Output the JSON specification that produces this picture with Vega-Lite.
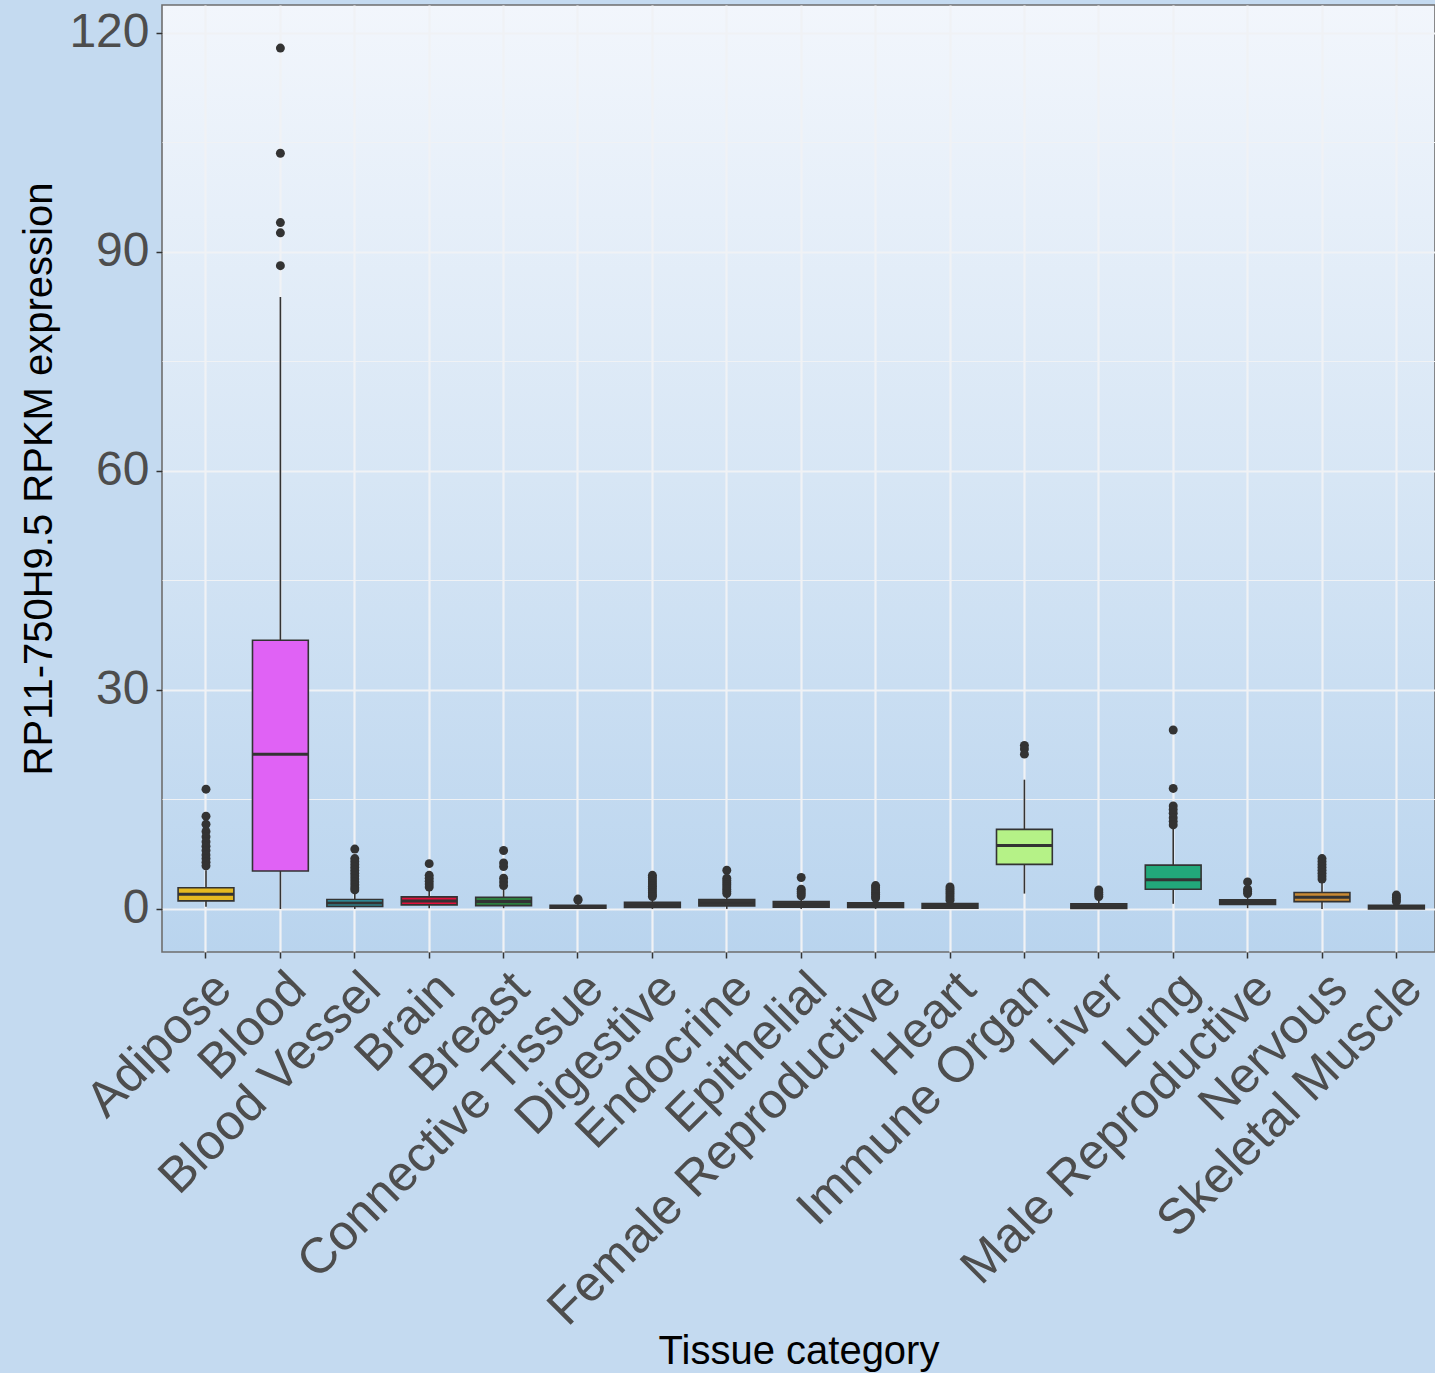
{
  "$schema": "https://vega.github.io/schema/vega-lite/v6.json",
  "width": 1273,
  "height": 947,
  "autosize": {"type": "none"},
  "padding": {"left": 162, "top": 5, "right": 0, "bottom": 421},
  "background": "#C4DAF0",
  "config": {
    "font": "Liberation Sans",
    "view": {
      "fill": {"gradient": "linear", "x1": 0, "y1": 0, "x2": 0, "y2": 1,
        "stops": [{"offset": 0, "color": "#F2F6FC"}, {"offset": 0.5, "color": "#D7E6F5"}, {"offset": 1, "color": "#B9D4EE"}]},
      "stroke": "#6E6E6E",
      "strokeWidth": 1.6
    },
    "axis": {
      "domain": false,
      "grid": true,
      "gridColor": "#F0F2F5",
      "tickColor": "#333333",
      "tickWidth": 1.5,
      "tickSize": 6,
      "labelColor": "#4D4D4D",
      "labelFont": "Liberation Sans",
      "labelFontSize": 48,
      "titleColor": "#000000",
      "titleFont": "Liberation Sans",
      "titleFontSize": 40,
      "titleFontWeight": "normal",
      "labelOverlap": false,
      "labelLimit": 2000
    },
    "axisX": {
      "labelAngle": -45,
      "labelAlign": "right",
      "labelBaseline": "top",
      "labelPadding": 5,
      "labelFontSize": 50,
      "gridWidth": 2.2,
      "titleY": 411,
      "titleBaseline": "alphabetic"
    },
    "axisY": {
      "labelPadding": 7,
      "titleX": -111,
      "titleBaseline": "alphabetic"
    }
  },
  "datasets": {
    "stats": [
      {"tissue": "Adipose", "lower": 0.3, "q1": 1.1, "median": 2.0, "q3": 2.9, "upper": 5.3},
      {"tissue": "Blood", "lower": 0.0, "q1": 5.2, "median": 21.2, "q3": 36.8, "upper": 83.8},
      {"tissue": "Blood Vessel", "lower": 0.0, "q1": 0.35, "median": 0.8, "q3": 1.3, "upper": 2.4},
      {"tissue": "Brain", "lower": 0.1, "q1": 0.55, "median": 1.1, "q3": 1.65, "upper": 2.6},
      {"tissue": "Breast", "lower": 0.1, "q1": 0.45, "median": 1.0, "q3": 1.6, "upper": 2.7},
      {"tissue": "Connective Tissue", "lower": 0.0, "q1": 0.1, "median": 0.3, "q3": 0.5, "upper": 0.9},
      {"tissue": "Digestive", "lower": 0.0, "q1": 0.2, "median": 0.5, "q3": 0.9, "upper": 1.6},
      {"tissue": "Endocrine", "lower": 0.0, "q1": 0.4, "median": 0.8, "q3": 1.3, "upper": 2.0},
      {"tissue": "Epithelial", "lower": 0.0, "q1": 0.25, "median": 0.6, "q3": 1.0, "upper": 1.6},
      {"tissue": "Female Reproductive", "lower": 0.0, "q1": 0.2, "median": 0.5, "q3": 0.85, "upper": 1.4},
      {"tissue": "Heart", "lower": 0.0, "q1": 0.1, "median": 0.4, "q3": 0.75, "upper": 1.1},
      {"tissue": "Immune Organ", "lower": 2.1, "q1": 6.1, "median": 8.7, "q3": 10.9, "upper": 17.7},
      {"tissue": "Liver", "lower": 0.0, "q1": 0.05, "median": 0.3, "q3": 0.7, "upper": 1.3},
      {"tissue": "Lung", "lower": 0.7, "q1": 2.7, "median": 4.0, "q3": 6.0, "upper": 11.2},
      {"tissue": "Male Reproductive", "lower": 0.1, "q1": 0.6, "median": 0.9, "q3": 1.25, "upper": 1.8},
      {"tissue": "Nervous", "lower": 0.0, "q1": 1.0, "median": 1.6, "q3": 2.25, "upper": 3.9},
      {"tissue": "Skeletal Muscle", "lower": 0.0, "q1": 0.0, "median": 0.25, "q3": 0.5, "upper": 0.7}
    ],
    "outliers": [
      {"tissue": "Adipose", "value": 16.4}, {"tissue": "Adipose", "value": 12.7}, {"tissue": "Adipose", "value": 11.6},
      {"tissue": "Adipose", "value": 10.6}, {"tissue": "Adipose", "value": 9.9}, {"tissue": "Adipose", "value": 9.2},
      {"tissue": "Adipose", "value": 8.6}, {"tissue": "Adipose", "value": 8.0}, {"tissue": "Adipose", "value": 7.4},
      {"tissue": "Adipose", "value": 6.9}, {"tissue": "Adipose", "value": 6.4}, {"tissue": "Adipose", "value": 5.9},
      {"tissue": "Blood", "value": 117.9}, {"tissue": "Blood", "value": 103.5}, {"tissue": "Blood", "value": 94.0},
      {"tissue": "Blood", "value": 92.6}, {"tissue": "Blood", "value": 88.1},
      {"tissue": "Blood Vessel", "value": 8.2}, {"tissue": "Blood Vessel", "value": 6.9}, {"tissue": "Blood Vessel", "value": 6.5},
      {"tissue": "Blood Vessel", "value": 6.1}, {"tissue": "Blood Vessel", "value": 5.7}, {"tissue": "Blood Vessel", "value": 5.3},
      {"tissue": "Blood Vessel", "value": 4.9}, {"tissue": "Blood Vessel", "value": 4.5}, {"tissue": "Blood Vessel", "value": 4.1},
      {"tissue": "Blood Vessel", "value": 3.7}, {"tissue": "Blood Vessel", "value": 3.3}, {"tissue": "Blood Vessel", "value": 2.9},
      {"tissue": "Blood Vessel", "value": 2.6},
      {"tissue": "Brain", "value": 6.2}, {"tissue": "Brain", "value": 4.6}, {"tissue": "Brain", "value": 4.2},
      {"tissue": "Brain", "value": 3.8}, {"tissue": "Brain", "value": 3.4}, {"tissue": "Brain", "value": 3.0},
      {"tissue": "Breast", "value": 8.0}, {"tissue": "Breast", "value": 6.3}, {"tissue": "Breast", "value": 5.8},
      {"tissue": "Breast", "value": 4.2}, {"tissue": "Breast", "value": 3.7}, {"tissue": "Breast", "value": 3.2},
      {"tissue": "Connective Tissue", "value": 1.2}, {"tissue": "Connective Tissue", "value": 1.35},
      {"tissue": "Digestive", "value": 4.6}, {"tissue": "Digestive", "value": 4.3}, {"tissue": "Digestive", "value": 4.0},
      {"tissue": "Digestive", "value": 3.7}, {"tissue": "Digestive", "value": 3.4}, {"tissue": "Digestive", "value": 3.1},
      {"tissue": "Digestive", "value": 2.8}, {"tissue": "Digestive", "value": 2.5}, {"tissue": "Digestive", "value": 2.2},
      {"tissue": "Digestive", "value": 1.9}, {"tissue": "Digestive", "value": 1.7},
      {"tissue": "Endocrine", "value": 5.3}, {"tissue": "Endocrine", "value": 4.2}, {"tissue": "Endocrine", "value": 3.9},
      {"tissue": "Endocrine", "value": 3.6}, {"tissue": "Endocrine", "value": 3.3}, {"tissue": "Endocrine", "value": 3.0},
      {"tissue": "Endocrine", "value": 2.7}, {"tissue": "Endocrine", "value": 2.4}, {"tissue": "Endocrine", "value": 2.1},
      {"tissue": "Epithelial", "value": 4.3}, {"tissue": "Epithelial", "value": 2.7}, {"tissue": "Epithelial", "value": 2.4},
      {"tissue": "Epithelial", "value": 2.1}, {"tissue": "Epithelial", "value": 1.8},
      {"tissue": "Female Reproductive", "value": 3.2}, {"tissue": "Female Reproductive", "value": 2.9},
      {"tissue": "Female Reproductive", "value": 2.6}, {"tissue": "Female Reproductive", "value": 2.3},
      {"tissue": "Female Reproductive", "value": 2.0}, {"tissue": "Female Reproductive", "value": 1.7},
      {"tissue": "Female Reproductive", "value": 1.5},
      {"tissue": "Heart", "value": 3.0}, {"tissue": "Heart", "value": 2.7}, {"tissue": "Heart", "value": 2.4},
      {"tissue": "Heart", "value": 2.1}, {"tissue": "Heart", "value": 1.8}, {"tissue": "Heart", "value": 1.5},
      {"tissue": "Heart", "value": 1.2},
      {"tissue": "Immune Organ", "value": 22.4}, {"tissue": "Immune Organ", "value": 21.9}, {"tissue": "Immune Organ", "value": 21.2},
      {"tissue": "Liver", "value": 2.6}, {"tissue": "Liver", "value": 2.3}, {"tissue": "Liver", "value": 2.0},
      {"tissue": "Liver", "value": 1.7},
      {"tissue": "Lung", "value": 24.5}, {"tissue": "Lung", "value": 16.5}, {"tissue": "Lung", "value": 14.1},
      {"tissue": "Lung", "value": 13.6}, {"tissue": "Lung", "value": 13.1}, {"tissue": "Lung", "value": 12.5},
      {"tissue": "Lung", "value": 12.0}, {"tissue": "Lung", "value": 11.5},
      {"tissue": "Male Reproductive", "value": 3.7}, {"tissue": "Male Reproductive", "value": 2.7},
      {"tissue": "Male Reproductive", "value": 2.4}, {"tissue": "Male Reproductive", "value": 2.1},
      {"tissue": "Nervous", "value": 6.9}, {"tissue": "Nervous", "value": 6.5}, {"tissue": "Nervous", "value": 6.1},
      {"tissue": "Nervous", "value": 5.7}, {"tissue": "Nervous", "value": 5.3}, {"tissue": "Nervous", "value": 4.9},
      {"tissue": "Nervous", "value": 4.5}, {"tissue": "Nervous", "value": 4.1},
      {"tissue": "Skeletal Muscle", "value": 1.9}, {"tissue": "Skeletal Muscle", "value": 1.6},
      {"tissue": "Skeletal Muscle", "value": 1.3}, {"tissue": "Skeletal Muscle", "value": 1.0}
    ]
  },
  "encoding": {
    "x": {
      "field": "tissue",
      "type": "nominal",
      "title": "Tissue category",
      "sort": ["Adipose", "Blood", "Blood Vessel", "Brain", "Breast", "Connective Tissue", "Digestive", "Endocrine", "Epithelial", "Female Reproductive", "Heart", "Immune Organ", "Liver", "Lung", "Male Reproductive", "Nervous", "Skeletal Muscle"],
      "scale": {"paddingInner": 0, "paddingOuter": 0.055, "align": 0.83}
    }
  },
  "layer": [
    {
      "data": {"name": "stats"},
      "mark": {"type": "rule", "color": "#333333", "strokeWidth": 1.6},
      "encoding": {
        "y": {"field": "lower", "type": "quantitative", "title": "RP11-750H9.5 RPKM expression",
          "scale": {"domain": [-5.9, 123.8], "nice": false, "zero": false},
          "axis": {"values": [0, 15, 30, 45, 60, 75, 90, 105, 120],
            "labelExpr": "datum.value % 30 === 0 ? datum.label : ''",
            "gridWidth": {"condition": {"test": "datum.value % 30 === 0", "value": 2.2}, "value": 1.1},
            "tickOpacity": {"condition": {"test": "datum.value % 30 === 0", "value": 1}, "value": 0}}},
        "y2": {"field": "upper"}
      }
    },
    {
      "data": {"name": "stats"},
      "mark": {"type": "bar", "stroke": "#333333", "strokeWidth": 1.6, "width": {"band": 0.75}},
      "encoding": {
        "y": {"field": "q1", "type": "quantitative", "title": "RP11-750H9.5 RPKM expression",
          "scale": {"domain": [-5.9, 123.8], "nice": false, "zero": false},
          "axis": {"values": [0, 15, 30, 45, 60, 75, 90, 105, 120],
            "labelExpr": "datum.value % 30 === 0 ? datum.label : ''",
            "gridWidth": {"condition": {"test": "datum.value % 30 === 0", "value": 2.2}, "value": 1.1},
            "tickOpacity": {"condition": {"test": "datum.value % 30 === 0", "value": 1}, "value": 0}}},
        "y2": {"field": "q3"},
        "fill": {"field": "tissue", "type": "nominal", "legend": null,
          "scale": {
            "domain": ["Adipose", "Blood", "Blood Vessel", "Brain", "Breast", "Connective Tissue", "Digestive", "Endocrine", "Epithelial", "Female Reproductive", "Heart", "Immune Organ", "Liver", "Lung", "Male Reproductive", "Nervous", "Skeletal Muscle"],
            "range": ["#E5B921", "#E062F5", "#2FA4B5", "#E0103C", "#2E7D3E", "#3A3A3A", "#3A3A3A", "#3A3A3A", "#3A3A3A", "#3A3A3A", "#3A3A3A", "#B5F287", "#3A3A3A", "#22A87A", "#3A3A3A", "#C98A35", "#3A3A3A"]
          }}
      }
    },
    {
      "data": {"name": "stats"},
      "mark": {"type": "tick", "color": "#333333", "thickness": 3, "size": 56, "opacity": 1},
      "encoding": {
        "y": {"field": "median", "type": "quantitative", "title": "RP11-750H9.5 RPKM expression",
          "scale": {"domain": [-5.9, 123.8], "nice": false, "zero": false},
          "axis": {"values": [0, 15, 30, 45, 60, 75, 90, 105, 120],
            "labelExpr": "datum.value % 30 === 0 ? datum.label : ''",
            "gridWidth": {"condition": {"test": "datum.value % 30 === 0", "value": 2.2}, "value": 1.1},
            "tickOpacity": {"condition": {"test": "datum.value % 30 === 0", "value": 1}, "value": 0}}}
      }
    },
    {
      "data": {"name": "outliers"},
      "mark": {"type": "point", "filled": true, "color": "#333333", "opacity": 1, "size": 80},
      "encoding": {
        "y": {"field": "value", "type": "quantitative", "title": "RP11-750H9.5 RPKM expression",
          "scale": {"domain": [-5.9, 123.8], "nice": false, "zero": false},
          "axis": {"values": [0, 15, 30, 45, 60, 75, 90, 105, 120],
            "labelExpr": "datum.value % 30 === 0 ? datum.label : ''",
            "gridWidth": {"condition": {"test": "datum.value % 30 === 0", "value": 2.2}, "value": 1.1},
            "tickOpacity": {"condition": {"test": "datum.value % 30 === 0", "value": 1}, "value": 0}}}
      }
    }
  ]
}
